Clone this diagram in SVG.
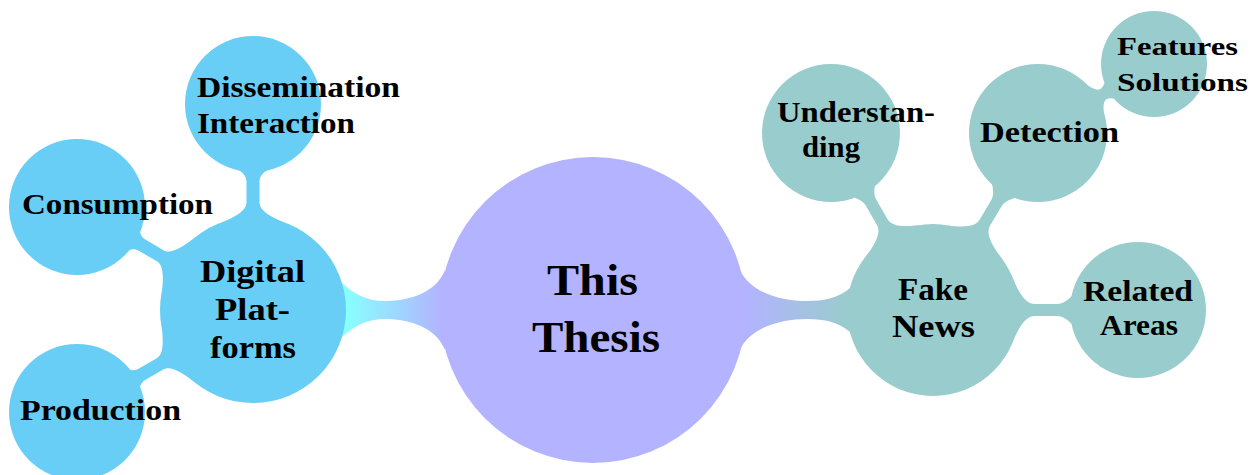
<svg xmlns="http://www.w3.org/2000/svg" width="1251" height="475" viewBox="0 0 1251 475">
<defs>
<linearGradient id="g1" gradientUnits="userSpaceOnUse" x1="346" y1="0" x2="442" y2="0">
<stop offset="0" stop-color="#88ffff"/><stop offset="1" stop-color="#b3b3ff"/>
</linearGradient>
<linearGradient id="g2" gradientUnits="userSpaceOnUse" x1="746" y1="0" x2="848" y2="0">
<stop offset="0" stop-color="#b3b3ff"/><stop offset="1" stop-color="#99cccc"/>
</linearGradient>
<path id="barDP" d="M 86 -34 C 95 -14, 100 -6.5, 108 -6.5 L 128 -6.5 C 133 -6.5, 137 -9, 141 -16 L 141 16 C 137 9, 133 6.5, 128 6.5 L 108 6.5 C 100 6.5, 95 14, 86 34 Z"/>
<path id="barFN" d="M 80 -31 C 88 -13, 94 -6, 102 -6 L 124 -6 C 129 -6, 134 -9, 140 -15 L 140 15 C 134 9, 129 6, 124 6 L 102 6 C 94 6, 88 13, 80 31 Z"/>
<path id="barDet" d="M 63 -26 C 68 -12, 72 -6, 76 -6 C 80 -6, 83 -9, 88 -14 L 88 14 C 83 9, 80 6, 76 6 C 72 6, 68 12, 63 26 Z"/>
</defs>
<style>
.blue{fill:#68cef5}
.teal{fill:#99cccc}
.root{fill:#b3b3ff}
text{font-family:"Liberation Serif","Times New Roman",serif;font-weight:bold;fill:#000}
.l0{font-size:45px}
.l1{font-size:32px}
.l2{font-size:30px}
.l3{font-size:26px}
</style>
<rect width="1251" height="475" fill="#fff"/>
<g id="connectors">
<path fill="url(#g1)" d="M 342 283 C 355 295, 368 301, 385 301 C 405 301, 435 295, 445 270 L 445 350 C 435 325, 405 319, 385 319 C 368 319, 355 325, 342 337 Z"/>
<path fill="url(#g2)" d="M 740 270 C 750 292, 780 301, 807 301 C 825 301, 838 298, 850 288 L 850 332 C 838 322, 825 319, 807 319 C 780 319, 750 328, 740 350 Z"/>
<use href="#barDP" class="blue" transform="translate(253,310) rotate(-90)"/>
<use href="#barDP" class="blue" transform="translate(253,310) rotate(-149.7)"/>
<use href="#barDP" class="blue" transform="translate(253,310) rotate(149.9)"/>
<use href="#barFN" class="teal" transform="translate(933,310) rotate(-120)"/>
<use href="#barFN" class="teal" transform="translate(933,310) rotate(-59.3)"/>
<use href="#barFN" class="teal" transform="translate(933,310)"/>
<use href="#barDet" class="teal" transform="translate(1038,133) rotate(-30.7)"/>
</g>
<g id="thesis">
<circle class="root" cx="593" cy="310" r="153"/>
<text class="l0" x="547" y="295" textLength="91" lengthAdjust="spacingAndGlyphs">This</text>
<text class="l0" x="532" y="352" textLength="128" lengthAdjust="spacingAndGlyphs">Thesis</text>
</g>
<g id="digital-platforms">
<circle class="blue" cx="253" cy="310" r="93"/>
<text class="l1" x="200" y="282" textLength="105" lengthAdjust="spacingAndGlyphs">Digital</text>
<text class="l1" x="215" y="320" textLength="75" lengthAdjust="spacingAndGlyphs">Plat-</text>
<text class="l1" x="210" y="358" textLength="86" lengthAdjust="spacingAndGlyphs">forms</text>
</g>
<g id="dissemination">
<circle class="blue" cx="253" cy="104" r="68"/>
<text class="l2" x="197" y="97" textLength="203" lengthAdjust="spacingAndGlyphs">Dissemination</text>
<text class="l2" x="197" y="133" textLength="158" lengthAdjust="spacingAndGlyphs">Interaction</text>
</g>
<g id="consumption">
<circle class="blue" cx="77" cy="207" r="68"/>
<text class="l2" x="22" y="214" textLength="191" lengthAdjust="spacingAndGlyphs">Consumption</text>
</g>
<g id="production">
<circle class="blue" cx="77" cy="412" r="68"/>
<text class="l2" x="20" y="420" textLength="161" lengthAdjust="spacingAndGlyphs">Production</text>
</g>
<g id="fake-news">
<circle class="teal" cx="933" cy="310" r="86"/>
<text class="l1" x="898" y="300" textLength="70" lengthAdjust="spacingAndGlyphs">Fake</text>
<text class="l1" x="892" y="337" textLength="83" lengthAdjust="spacingAndGlyphs">News</text>
</g>
<g id="understanding">
<circle class="teal" cx="831" cy="133" r="69"/>
<text class="l2" x="777" y="122" textLength="158" lengthAdjust="spacingAndGlyphs">Understan-</text>
<text class="l2" x="802" y="157" textLength="58" lengthAdjust="spacingAndGlyphs">ding</text>
</g>
<g id="detection">
<circle class="teal" cx="1038" cy="133" r="69"/>
<text class="l2" x="980" y="142" textLength="139" lengthAdjust="spacingAndGlyphs">Detection</text>
</g>
<g id="features-solutions">
<circle class="teal" cx="1154" cy="64" r="53"/>
<text class="l3" x="1117" y="55" textLength="121" lengthAdjust="spacingAndGlyphs">Features</text>
<text class="l3" x="1117" y="91" textLength="131" lengthAdjust="spacingAndGlyphs">Solutions</text>
</g>
<g id="related-areas">
<circle class="teal" cx="1138" cy="310" r="68"/>
<text class="l2" x="1083" y="301" textLength="110" lengthAdjust="spacingAndGlyphs">Related</text>
<text class="l2" x="1100" y="335" textLength="78" lengthAdjust="spacingAndGlyphs">Areas</text>
</g>
</svg>
